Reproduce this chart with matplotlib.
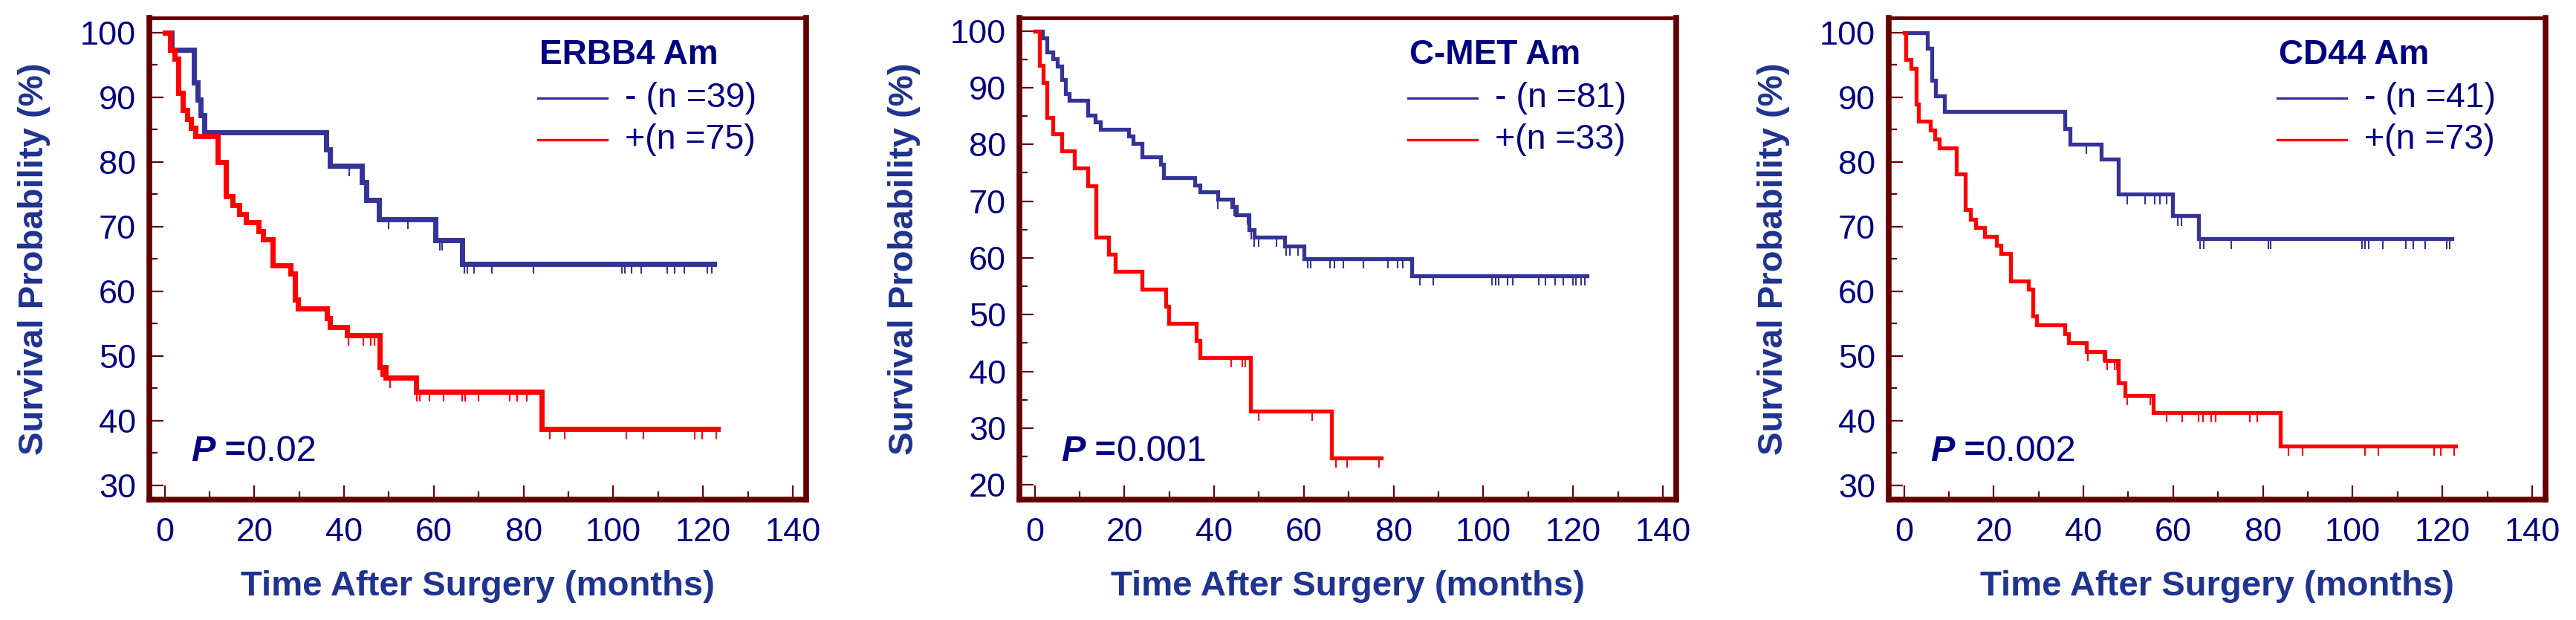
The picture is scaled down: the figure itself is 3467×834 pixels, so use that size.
import matplotlib
matplotlib.use('Agg')
import matplotlib.pyplot as plt
import numpy as np
from matplotlib.ticker import MultipleLocator

plt.rcParams['font.family'] = ['Liberation Sans', 'DejaVu Sans']

# ---- ERBB4 Am ----
erbb4_neg_t = [1.5, 6.5, 7.4, 8.1, 8.9, 36.0, 36.9, 44.0, 45.0, 47.8, 60.3, 66.4]
erbb4_neg_s = [97.4, 92.3, 89.7, 87.2, 84.6, 82.0, 79.4, 76.9, 74.1, 71.2, 67.9, 64.3]
erbb4_neg_cens = [41.2, 50.0, 54.2, 61.3, 61.9, 66.9, 67.5, 69.0, 73.0, 82.3, 102.0, 102.6,
                  104.0, 106.3, 112.0, 113.7, 115.8, 121.0, 122.0]
erbb4_neg_end = 122.5
erbb4_pos_t = [1.3, 2.2, 3.0, 4.0, 5.1, 5.8, 6.8, 11.8, 13.6, 15.1, 16.6, 18.1, 21.0,
               22.0, 24.1, 28.1, 29.1, 29.8, 36.2, 36.9, 40.7, 48.0, 49.3, 56.0, 84.0]
erbb4_pos_s = [97.3, 96.0, 90.7, 88.0, 86.7, 85.3, 84.0, 80.0, 74.7, 73.3, 72.0, 70.7, 69.3,
               68.0, 64.0, 62.7, 58.7, 57.3, 55.9, 54.5, 53.2, 48.3, 46.6, 44.5, 38.7]
erbb4_pos_cens = [41.0, 44.3, 46.0, 46.7, 48.2, 48.6, 50.3, 56.3, 56.8, 59.1, 62.1, 66.4, 67.0,
                  70.0, 77.0, 78.5, 80.8, 85.9, 89.2, 103.0, 106.8, 118.2, 119.8, 122.9]
erbb4_pos_end = 123.3

# ---- C-MET Am ----
cmet_neg_t = [1.7, 2.7, 4.0, 5.1, 6.1, 6.9, 7.7, 11.9, 13.5, 14.6, 20.9, 22.0, 23.9, 28.1,
              28.8, 35.7, 36.8, 40.8, 44.2, 45.0, 47.8, 48.9, 55.8, 60.0, 84.1]
cmet_neg_s = [98.8, 96.3, 95.1, 93.8, 91.4, 88.9, 87.7, 85.2, 84.0, 82.7, 81.5, 80.2, 77.8,
              76.5, 74.1, 72.8, 71.6, 70.3, 69.0, 67.6, 65.0, 63.6, 62.1, 59.9, 56.8]
cmet_neg_cens = [40.9, 43.8, 44.4, 47.5, 48.2, 49.0, 50.0, 53.9, 56.0, 56.8, 58.7, 60.8, 61.6,
                 65.8, 66.9, 68.8, 73.2, 78.8, 80.9, 82.0, 85.9, 88.8, 102.0, 102.8, 103.5,
                 105.4, 106.5, 112.3, 113.9, 116.0, 117.9, 120.0, 120.7, 121.8, 122.6]
cmet_neg_end = 123.2
cmet_pos_t = [1.1, 1.9, 2.7, 4.0, 6.1, 8.8, 11.9, 13.7, 16.5, 18.0, 23.9, 29.2, 29.9, 36.0,
              36.9, 48.1, 66.1]
cmet_pos_s = [93.9, 90.9, 84.8, 81.8, 78.8, 75.8, 72.7, 63.6, 60.6, 57.6, 54.5, 51.5, 48.5,
              45.5, 42.4, 33.0, 24.7]
cmet_pos_cens = [43.8, 46.3, 47.0, 50.0, 61.9, 67.1, 69.7, 76.7]
cmet_pos_end = 77.2

# ---- CD44 Am ----
cd44_neg_t = [5.2, 6.2, 7.0, 9.0, 35.8, 37.0, 44.0, 47.7, 59.8, 65.7]
cd44_neg_s = [97.6, 92.7, 90.2, 87.8, 85.2, 82.8, 80.4, 75.0, 71.7, 68.1]
cd44_neg_cens = [40.7, 43.8, 49.7, 53.7, 55.9, 57.1, 58.6, 61.0, 61.9, 66.0, 66.9, 73.0, 81.2,
                 81.7, 102.1, 102.7, 103.6, 106.7, 111.9, 113.5, 116.2, 120.9, 121.7]
cd44_neg_end = 122.1
cd44_pos_t = [0.4, 1.5, 2.7, 3.3, 5.9, 6.8, 7.8, 11.7, 13.6, 14.8, 16.0, 17.9, 20.6, 21.6,
              23.7, 27.8, 28.7, 29.6, 35.8, 36.6, 40.7, 44.8, 47.7, 49.3, 55.5, 83.9]
cd44_pos_s = [95.9, 94.5, 89.0, 86.3, 84.9, 83.6, 82.2, 78.1, 72.6, 71.2, 69.9, 68.5, 67.1,
              65.8, 61.6, 60.3, 56.2, 54.8, 53.4, 52.1, 50.7, 49.3, 45.9, 43.9, 41.3, 36.1]
cd44_pos_cens = [40.5, 41.0, 44.4, 45.3, 46.9, 47.5, 49.7, 54.9, 58.6, 62.0, 65.7, 66.6, 68.5,
                 69.4, 77.1, 78.7, 85.7, 88.8, 102.7, 105.8, 118.2, 119.6, 122.7]
cd44_pos_end = 123.0

titles = ['ERBB4 Am', 'C-MET Am', 'CD44 Am']
neg_labels = ['- (n =39)', '- (n =81)', '- (n =41)']
pos_labels = ['+(n =75)', '+(n =33)', '+(n =73)']
p_values = ['0.02', '0.001', '0.002']
y_bottoms = [30, 20, 30]

blue = '#333399'
red = '#ff0000'
maroon = '#660000'
navy = '#000080'
label_blue = '#1f338f'


def step_arrays(times, levels, end):
    t = np.concatenate([[0.0], times, [end]])
    s = np.concatenate([[100.0], levels, [levels[-1]]])
    return t, s


def level_at(times, levels, c):
    s = np.concatenate([[100.0], levels])
    idx = np.searchsorted(np.asarray(times), np.asarray(c), side='right')
    return s[idx]


panels = [
    (erbb4_neg_t, erbb4_neg_s, erbb4_neg_cens, erbb4_neg_end,
     erbb4_pos_t, erbb4_pos_s, erbb4_pos_cens, erbb4_pos_end),
    (cmet_neg_t, cmet_neg_s, cmet_neg_cens, cmet_neg_end,
     cmet_pos_t, cmet_pos_s, cmet_pos_cens, cmet_pos_end),
    (cd44_neg_t, cd44_neg_s, cd44_neg_cens, cd44_neg_end,
     cd44_pos_t, cd44_pos_s, cd44_pos_cens, cd44_pos_end),
]
lefts = [201 / 3467, 1372 / 3467, 2542 / 3467]
line_w = [5.0, 3.8, 3.8]

fig = plt.figure(figsize=(34.67, 8.34), dpi=100)

for i, pan in enumerate(panels):
    ax = fig.add_axes([lefts[i], 162 / 834, 884 / 3467, 648 / 834])
    ylo = y_bottoms[i] - 2.2 if i != 1 else 17.4
    yhi = 102.3
    ax.set_xlim(-3.4, 143)
    ax.set_ylim(ylo, yhi)
    dy = 10 * (yhi - ylo) / 648.0

    groups = [(pan[0], pan[1], pan[2], pan[3], blue, 2),
              (pan[4], pan[5], pan[6], pan[7], red, 3)]
    for times, levels, cens, end, col, z in groups:
        t, s = step_arrays(times, levels, end)
        ax.step(t, s, where='post', color=col, lw=line_w[i], zorder=z,
                solid_joinstyle='miter')
        cy = level_at(times, levels, cens)
        ax.vlines(cens, cy - dy - 0.4, cy, color=col, lw=1.5, zorder=z)

    # axes styling
    for name, sp in ax.spines.items():
        sp.set_color(maroon)
        sp.set_capstyle('projecting')
        sp.set_linewidth(3.5 if name == 'top' else 5.5)
    ax.xaxis.set_major_locator(MultipleLocator(20))
    ax.xaxis.set_minor_locator(MultipleLocator(10))
    ax.yaxis.set_major_locator(MultipleLocator(10))
    ax.yaxis.set_minor_locator(MultipleLocator(5))
    ax.tick_params(which='both', direction='in', color=maroon, width=1.6)
    ax.tick_params(which='major', length=14, labelsize=32.5, labelcolor=navy)
    ax.tick_params(which='minor', length=8)
    ax.tick_params(axis='y', which='major', pad=13)
    ax.tick_params(axis='x', which='major', pad=17)
    ax.set_yticks(np.arange(y_bottoms[i], 101, 10))

    ax.set_xlabel('Time After Surgery (months)', fontsize=34, fontweight='bold',
                  color=label_blue)
    ax.xaxis.label.set_va('center')
    ax.xaxis.set_label_coords(0.5, -0.18)
    ax.set_ylabel('Survival Probability (%)', fontsize=34, fontweight='bold',
                  color=label_blue)
    ax.yaxis.label.set_va('center')
    ax.yaxis.set_label_coords(-0.175, 0.5)

    # title and legend inside axes
    ax.text(0.594, 0.923, titles[i], transform=ax.transAxes, fontsize=33,
            fontweight='bold', color=navy, ha='left', va='center')
    ax.plot([0.592, 0.697], [0.833, 0.833], transform=ax.transAxes, color=blue, lw=2.4)
    ax.plot([0.592, 0.697], [0.747, 0.747], transform=ax.transAxes, color=red, lw=2.4)
    ax.text(0.724, 0.833, neg_labels[i], transform=ax.transAxes, fontsize=33.5,
            color=navy, ha='left', va='center')
    ax.text(0.724, 0.747, pos_labels[i], transform=ax.transAxes, fontsize=33.5,
            color=navy, ha='left', va='center')

    # P value
    pt = ax.text(0.063, 0.10, 'P', transform=ax.transAxes, fontsize=35,
                 fontweight='bold', fontstyle='italic', color=navy, ha='left', va='center')
    eq = ax.annotate(' =', xy=(1, 0.5), xycoords=pt, fontsize=35, fontweight='bold',
                     color=navy, ha='left', va='center')
    ax.annotate(p_values[i], xy=(1, 0.5), xycoords=eq, fontsize=35, color=navy,
                ha='left', va='center')

fig.savefig('out.png', dpi=100)
